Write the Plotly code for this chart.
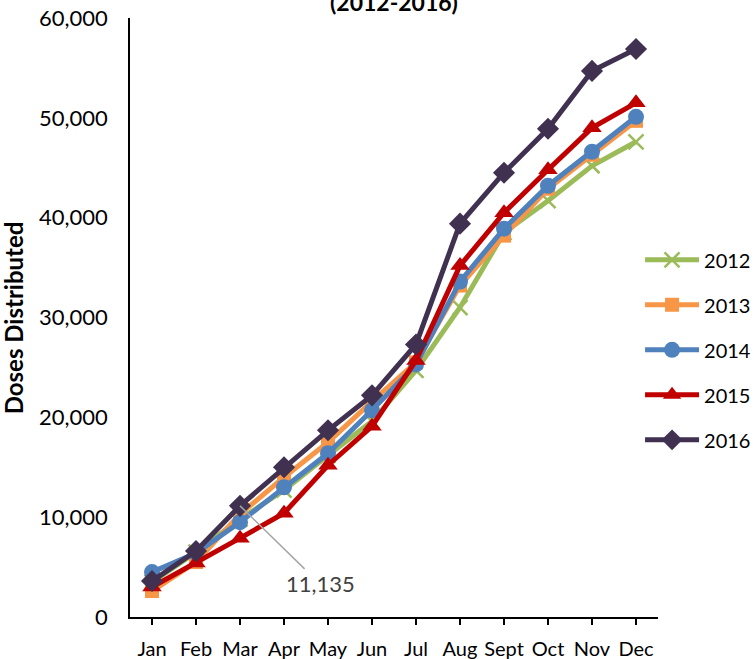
import plotly.graph_objects as go

months = ["Jan", "Feb", "Mar", "Apr", "May", "Jun", "Jul", "Aug", "Sept", "Oct", "Nov", "Dec"]
years = ["2012", "2013", "2014", "2015", "2016"]

doses_2012 = [3500, 6500, 9800, 12700, 16200, 19600, 24700, 31000, 38500, 41700, 45200, 47600]
doses_2013 = [2600, 5500, 10300, 14000, 17500, 21600, 25500, 33200, 38200, 42900, 46300, 49700]
doses_2014 = [4500, 6400, 9500, 13000, 16400, 20700, 25300, 33600, 38900, 43200, 46600, 50100]
doses_2015 = [3000, 5400, 7900, 10400, 15200, 19100, 25700, 35200, 40500, 44800, 49000, 51500]
doses_2016 = [3600, 6600, 11135, 15000, 18700, 22200, 27300, 39400, 44500, 48900, 54700, 56900]

series = [doses_2012, doses_2013, doses_2014, doses_2015, doses_2016]
colors = ["#9BBB59", "#F79646", "#4F81BD", "#C00000", "#403151"]
symbols = ["x-thin", "square", "circle", "triangle-up", "diamond"]
sizes = [15, 14, 16, 17, 17]

FONT = "Lato"

fig = go.Figure()
for yr, vals, col, sym, sz in zip(years, series, colors, symbols, sizes):
    marker = dict(symbol=sym, size=sz, color=col)
    if sym == "x-thin":
        marker["line"] = dict(color=col, width=2.5)
    fig.add_trace(go.Scatter(
        x=months, y=vals, name=yr, mode="lines+markers",
        line=dict(color=col, width=5), marker=marker, legendgroup=yr,
    ))

label_idx = 2
fig.add_annotation(
    x=months[label_idx], y=doses_2016[label_idx], xref="x", yref="y",
    text=f"{doses_2016[label_idx]:,}", showarrow=True, arrowhead=0,
    arrowcolor="#A6A6A6", arrowwidth=1.5, ax=80, ay=78,
    font=dict(family=FONT, size=22, color="#404040"),
)

fig.add_annotation(
    x=0.5, y=1.0, xref="paper", yref="paper", xanchor="center", yanchor="bottom",
    text="<b>(2012-2016)</b>", showarrow=False, yshift=0,
    font=dict(family=FONT, size=23, color="black"),
)

# y-axis title
fig.add_annotation(
    x=-0.22, y=0.5, xref="paper", yref="paper", xanchor="center", yanchor="middle",
    text="<b>Doses Distributed</b>", showarrow=False, textangle=-90,
    font=dict(family=FONT, size=24, color="black"),
)

fig.update_layout(
    width=754, height=659,
    margin=dict(l=130, r=96, t=18, b=42, autoexpand=False),
    paper_bgcolor="white", plot_bgcolor="white",
    font=dict(family=FONT, size=20, color="black"),
    showlegend=True,
    legend=dict(x=0.966, y=0.446, xanchor="left", yanchor="middle",
                tracegroupgap=16, font=dict(family=FONT, size=20, color="black"),
                bgcolor="rgba(0,0,0,0)", itemwidth=54),
)
fig.update_xaxes(
    type="category", showline=True, linecolor="black", linewidth=1.5,
    ticks="outside", ticklen=6, tickcolor="black", tickwidth=1.5,
    showgrid=False, zeroline=False, range=[-0.5, 11.5], ticklabelstandoff=7,
    tickfont=dict(family=FONT, size=20), automargin=False,
)
fig.update_yaxes(
    range=[0, 60000], dtick=10000, tickformat=",", showline=True,
    linecolor="black", linewidth=1.5, ticks="", showgrid=False, zeroline=False,
    ticklabelstandoff=16, tickfont=dict(family=FONT, size=22), automargin=False,
)

fig.write_html("out.html", config={"displayModeBar": False},
               post_script="document.body.style.margin='0';")
